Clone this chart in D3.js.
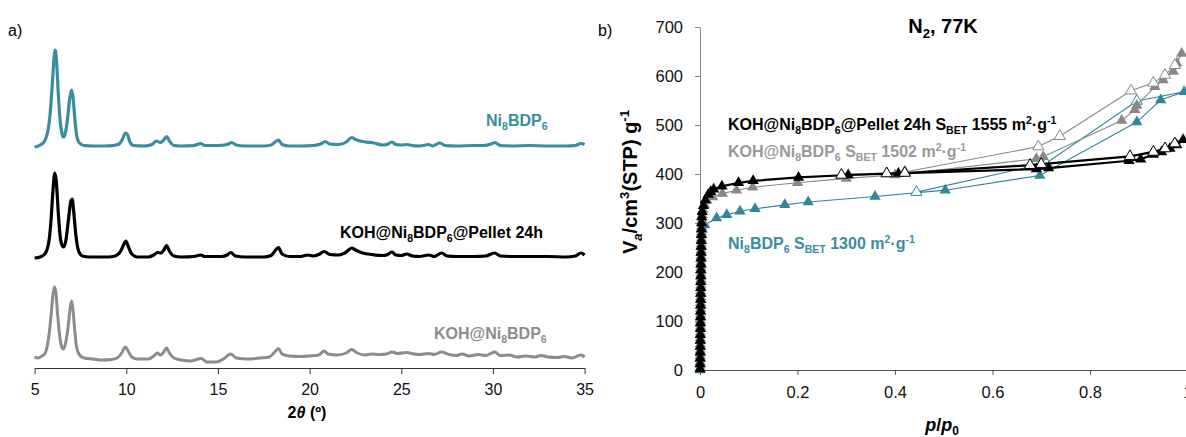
<!DOCTYPE html>
<html>
<head>
<meta charset="utf-8">
<script src="https://cdn.jsdelivr.net/npm/d3@7"></script>
<style>
  body { margin: 0; background: #fff; }
  svg { display: block; }
  text { font-family: 'Liberation Sans', Arial, sans-serif; }
</style>
</head>
<body>
<svg id="chart" width="1186" height="437"></svg>
<script>
// ---- a) PXRD patterns: [2theta, intensity above own baseline] ----
const xrdNi8BDP6 = [[5.0,-1],[5.2,0],[5.4,2],[5.55,5],[5.7,13],[5.8,24],[5.9,44],[6.0,72],[6.08,92],[6.13,96],[6.2,84],[6.3,50],[6.4,24],[6.5,12],[6.58,9],[6.68,13],[6.8,28],[6.92,48],[7.02,56],[7.1,48],[7.2,26],[7.3,10],[7.45,3],[7.7,0.5],[8.2,0],[8.8,0],[9.3,0.5],[9.6,2],[9.8,7],[9.95,13],[10.05,12],[10.2,4],[10.4,0.5],[11.0,0],[11.4,1.5],[11.65,5],[11.85,3.5],[12.0,5],[12.2,9.5],[12.35,5],[12.6,0.5],[13.0,0],[13.7,0.5],[14.05,2.5],[14.3,0.5],[15.0,0.5],[15.5,1.5],[15.75,3.5],[16.0,1],[16.5,0],[17.5,0],[17.9,1],[18.15,4.5],[18.3,6],[18.5,1.5],[18.9,0],[19.5,0],[20.2,0.5],[20.6,2],[20.85,4.5],[21.1,2],[21.6,1.5],[22.0,4],[22.3,8.5],[22.5,6.5],[22.9,4.5],[23.5,3],[24.0,1],[24.2,1.5],[24.5,4],[24.7,1.5],[25.0,1],[25.3,1.5],[25.6,0.5],[26.0,0],[26.5,1.5],[26.7,0],[27.1,3],[27.4,0.5],[28.0,0],[29.0,0.5],[29.5,0.5],[29.9,2],[30.1,3.5],[30.4,0.5],[31.0,0],[32.0,0.5],[33.0,0],[34.0,0],[34.5,0.5],[34.8,2.5],[35.0,1.5]];
const xrdPellet = [[5.0,-1],[5.3,0],[5.5,2],[5.65,6],[5.8,18],[5.9,38],[6.0,66],[6.1,84],[6.18,76],[6.3,42],[6.4,20],[6.52,11],[6.6,10],[6.7,16],[6.85,38],[6.98,56],[7.05,58],[7.13,46],[7.25,22],[7.4,6],[7.6,1],[8.0,0],[8.5,0],[9.0,0],[9.4,1],[9.7,6],[9.9,14],[9.98,16],[10.1,11],[10.3,3],[10.6,0],[11.2,0],[11.5,2],[11.7,4.5],[11.9,4],[12.05,7],[12.2,11.5],[12.35,6],[12.6,1],[13.0,0],[13.7,0.5],[14.05,2],[14.3,0.5],[15.2,0.5],[15.5,2],[15.7,4.5],[15.95,1],[16.5,0],[17.5,0],[17.9,1.5],[18.15,7],[18.3,9.5],[18.5,3],[18.9,0.5],[19.5,0.5],[19.9,2],[20.2,1],[20.5,2.5],[20.8,5.5],[21.1,2.5],[21.6,2],[22.0,5],[22.3,9],[22.5,7],[22.9,4],[23.4,2.5],[24.0,1.5],[24.2,2],[24.5,5],[24.7,2],[25.0,1.5],[25.3,3],[25.6,1],[26.0,0.5],[26.5,2],[26.8,0.5],[27.2,4],[27.5,1],[28.0,0.5],[29.0,0.5],[29.6,1],[30.1,4],[30.4,1],[31.0,0.5],[32.0,0.5],[33.0,0.5],[34.0,0],[34.5,1],[34.8,4],[35.0,2]];
const xrdKOH = [[5.0,0],[5.2,-1],[5.4,1],[5.55,3],[5.7,12],[5.8,24],[5.9,42],[6.0,62],[6.08,70],[6.15,66],[6.25,44],[6.35,24],[6.45,12],[6.55,8],[6.65,11],[6.8,26],[6.95,50],[7.02,56],[7.1,46],[7.2,24],[7.3,9],[7.45,2],[7.7,-1],[8.2,-2],[8.7,-3],[9.2,-2.5],[9.5,-1],[9.75,4],[9.95,10],[10.1,6],[10.3,0],[10.6,-2],[11.2,-2],[11.5,1],[11.7,4],[11.85,2],[12.0,4],[12.2,9],[12.35,4],[12.6,-1],[13.0,-3],[13.5,-4],[14.1,-1.5],[14.4,-5],[14.9,-5],[15.3,-2],[15.7,3],[16.0,-1],[16.6,-2],[17.3,-1],[17.8,0],[18.1,5],[18.3,8.5],[18.5,3],[18.9,1],[19.5,0.5],[20.0,1],[20.5,2],[20.8,6],[21.0,3],[21.5,2],[22.0,4],[22.3,7.5],[22.6,4],[23.0,2],[23.4,3],[23.8,2.5],[24.2,3],[24.5,5],[24.8,3.5],[25.3,4.5],[25.7,3],[26.0,2.5],[26.5,3.5],[26.8,2.5],[27.2,5],[27.6,2.5],[28.0,1.5],[28.3,3],[28.7,1],[29.2,2.5],[29.6,1.5],[30.1,5],[30.4,1.5],[30.9,2],[31.3,0],[31.8,1],[32.3,0],[32.6,1.5],[33.0,0],[33.5,-0.5],[33.9,0.5],[34.3,-1],[34.8,2],[35.0,0]];
const xrdOffsets = [222, 111, 11];          // stacking offsets: Ni8BDP6, Pellet, KOH
const xrdTicks = [5, 10, 15, 20, 25, 30, 35];

// ---- b) N2 isotherms at 77 K: [p/p0, Va (cm3 STP/g)] ----
const isoPelletAds = [[0.0002,2],[0.0003,12],[0.0004,24],[0.0005,36],[0.0006,48],[0.0007,60],[0.0008,72],[0.0009,84],[0.001,96],[0.0011,108],[0.0012,120],[0.0013,132],[0.0014,144],[0.0015,156],[0.0016,168],[0.0017,180],[0.0018,192],[0.0019,204],[0.002,216],[0.0021,228],[0.0022,240],[0.0024,252],[0.0026,264],[0.0028,276],[0.003,288],[0.0032,300],[0.0036,312],[0.0045,323],[0.007,335],[0.011,347],[0.017,358],[0.022,364],[0.028,369],[0.045,375],[0.079,382],[0.109,386],[0.202,393],[0.304,398],[0.407,401],[0.69,410],[0.715,412],[0.88,427],[0.904,430],[0.93,440],[0.947,445],[0.964,452],[0.978,459],[0.991,470]];
const isoPelletDes = [[0.974,462],[0.954,452],[0.93,445],[0.882,436],[0.70,420],[0.677,418],[0.42,402],[0.383,401],[0.29,398]];
const isoKOHAds = [[0.0002,5],[0.0003,17],[0.0004,29],[0.0005,41],[0.0006,53],[0.0007,65],[0.0008,77],[0.0009,89],[0.001,101],[0.0011,113],[0.0012,125],[0.0013,137],[0.0014,149],[0.0015,161],[0.0016,173],[0.0017,185],[0.0018,197],[0.0019,209],[0.002,221],[0.0022,233],[0.0024,245],[0.0026,257],[0.0028,269],[0.003,281],[0.0032,293],[0.0036,305],[0.0045,317],[0.006,328],[0.009,338],[0.014,346],[0.026,353],[0.046,360],[0.075,367],[0.108,373],[0.20,382],[0.30,391],[0.40,398],[0.69,431],[0.704,435],[0.865,509],[0.892,531],[0.896,540],[0.933,578],[0.95,592],[0.971,609],[0.978,626],[0.988,646]];
const isoKOHDes = [[0.974,622],[0.954,602],[0.93,586],[0.884,570],[0.738,477],[0.694,456],[0.42,404],[0.383,401],[0.29,396]];
const isoNiAds = [[0.0002,0],[0.0003,12],[0.0004,24],[0.0005,36],[0.0006,48],[0.0007,60],[0.0008,72],[0.0009,84],[0.001,96],[0.0011,108],[0.0012,120],[0.0013,132],[0.0014,144],[0.0015,156],[0.0016,168],[0.0017,180],[0.0018,192],[0.0019,204],[0.002,216],[0.0022,228],[0.0024,240],[0.0026,252],[0.0028,264],[0.003,276],[0.004,287],[0.01,296],[0.034,310],[0.055,317],[0.082,324],[0.113,329],[0.174,337],[0.222,343],[0.359,354],[0.503,367],[0.697,397],[0.896,506],[0.945,551],[0.993,568]];
const isoNiDes = [[0.896,549],[0.71,422],[0.444,363]];
const isoXTicks = [0, 0.2, 0.4, 0.6, 0.8, 1];
const isoYTicks = [0, 100, 200, 300, 400, 500, 600, 700];

const TEAL = "#3a8ca1";
const GREY = "#8c8c8c";

const svg = d3.select("#chart");
svg.append("rect").attr("width", 1186).attr("height", 437).attr("fill", "#fff");

// mini markup: _{sub} ^{sup} *{italic} %{italic sub}
function rich(sel, str, fs) {
    const parts = str.split(/([_^*%]\{[^}]*\})/).filter(s => s.length);
    let shift = 0;
    parts.forEach(p => {
        let kind = "n", t = p;
        if (/^[_^*%]\{/.test(p)) { kind = p[0]; t = p.slice(2, -1); }
        const target = (kind === "_" || kind === "%") ? fs * 0.24 : kind === "^" ? -fs * 0.38 : 0;
        const ts = sel.append("tspan").attr("dy", target - shift).text(t);
        shift = target;
        if (kind !== "n" && kind !== "*") ts.attr("font-size", fs * 0.66);
        if (kind === "*" || kind === "%") ts.attr("font-style", "italic");
    });
    return sel;
}
function label(x, y, str, fs, color, weight, anchor) {
    const t = svg.append("text").attr("x", x).attr("y", y)
        .attr("font-size", fs).attr("fill", color || "#000")
        .attr("font-weight", weight || "bold")
        .attr("text-anchor", anchor || "start")
        .style("white-space", "pre");
    return rich(t, str, fs);
}

// ================= panel a =================
const xL = d3.scaleLinear().domain([5, 35]).range([34.6, 584.6]);
const yL = d3.scaleLinear().domain([0, 330]).range([368, 38]);

const gA = svg.append("g");
const xrdLine = off => d3.line().x(d => xL(d[0])).y(d => yL(d[1] + off)).curve(d3.curveMonotoneX);
[[xrdNi8BDP6, TEAL, 3.2], [xrdPellet, "#000", 3.2], [xrdKOH, GREY, 3]].forEach(([data, c, w], i) => {
    gA.append("path").datum(data)
        .attr("d", xrdLine(xrdOffsets[i]))
        .attr("fill", "none").attr("stroke", c).attr("stroke-width", w)
        .attr("stroke-linejoin", "round");
});

const axA = gA.append("g").attr("transform", "translate(0,368)")
    .call(d3.axisBottom(xL).tickValues(xrdTicks).tickSize(6).tickPadding(10).tickSizeOuter(0));
axA.select(".domain").attr("stroke", "#333");
axA.selectAll(".tick line").attr("stroke", "#333");
axA.selectAll("text").attr("font-size", 16).attr("fill", "#111")
    .attr("font-family", "'Liberation Sans', Arial, sans-serif");

label(8, 36, "a)", 16, "#000", "normal");
label(307, 418, "2*{θ} (º)", 16, "#000", "bold", "middle");
label(486, 126, "Ni_{8}BDP_{6}", 16, TEAL);
label(340, 238, "KOH@Ni_{8}BDP_{6}@Pellet 24h", 16, "#000");
label(434, 339, "KOH@Ni_{8}BDP_{6}", 16, GREY);

// ================= panel b =================
const xR = d3.scaleLinear().domain([0, 1]).range([700, 1187.5]);
const yR = d3.scaleLinear().domain([0, 700]).range([370, 27]);
const gB = svg.append("g");

const axY = gB.append("g").attr("transform", "translate(700,0)")
    .call(d3.axisLeft(yR).tickValues(isoYTicks).tickSize(5).tickPadding(12).tickSizeOuter(0));
axY.select(".domain").attr("stroke", "#888");
axY.selectAll(".tick line").attr("stroke", "#888");
axY.selectAll("text").attr("font-size", 16.5).attr("fill", "#111")
    .attr("font-family", "'Liberation Sans', Arial, sans-serif");

const axX = gB.append("g").attr("transform", "translate(0,370)")
    .call(d3.axisBottom(xR).tickValues(isoXTicks).tickSize(5).tickPadding(11).tickSizeOuter(0)
        .tickFormat(d3.format("~g")));
axX.select(".domain").attr("stroke", "#555");
axX.selectAll(".tick line").attr("stroke", "#555");
axX.selectAll("text").attr("font-size", 16.5).attr("fill", "#111")
    .attr("font-family", "'Liberation Sans', Arial, sans-serif");

const isoLine = d3.line().x(d => xR(d[0])).y(d => yR(d[1]));
const tri = d3.symbol(d3.symbolTriangle, 55);
const isoSeries = [
    { ads: isoNiAds, des: isoNiDes, color: "#31869b", width: 1.1 },
    { ads: isoKOHAds, des: isoKOHDes, color: "#888888", width: 1.1 },
    { ads: isoPelletAds, des: isoPelletDes, color: "#000000", width: 2.2 }
];
isoSeries.forEach(s => {
    gB.append("path").datum(s.ads.concat(s.des))
        .attr("d", isoLine).attr("fill", "none")
        .attr("stroke", s.color).attr("stroke-width", s.width);
    gB.append("g").selectAll("path").data(s.ads).join("path")
        .attr("transform", d => `translate(${xR(d[0])},${yR(d[1])})`)
        .attr("d", tri).attr("fill", s.color);
    gB.append("g").selectAll("path").data(s.des).join("path")
        .attr("transform", d => `translate(${xR(d[0])},${yR(d[1])})`)
        .attr("d", tri).attr("fill", "#fff").attr("stroke", s.color).attr("stroke-width", 1);
});

label(598, 36, "b)", 16, "#000", "normal");
label(943, 33, "N_{2}, 77K", 20, "#000", "bold", "middle");
label(942, 431, "*{p}/*{p}_{0}", 18, "#000", "bold", "middle");

const yt = svg.append("text").attr("transform", "translate(637,182) rotate(-90)")
    .attr("text-anchor", "middle").attr("font-size", 20).attr("font-weight", "bold")
    .style("white-space", "pre");
rich(yt, "V%{a}/cm^{3}(STP) g^{-1}", 20);

label(728, 130, "KOH@Ni_{8}BDP_{6}@Pellet 24h S_{BET} 1555 m^{2}·g^{-1}", 16, "#000");
label(728, 157, "KOH@Ni_{8}BDP_{6} S_{BET} 1502 m^{2}·g^{-1}", 16, "#999999");
label(728, 249, "Ni_{8}BDP_{6} S_{BET} 1300 m^{2}·g^{-1}", 16, TEAL);
</script>
</body>
</html>
